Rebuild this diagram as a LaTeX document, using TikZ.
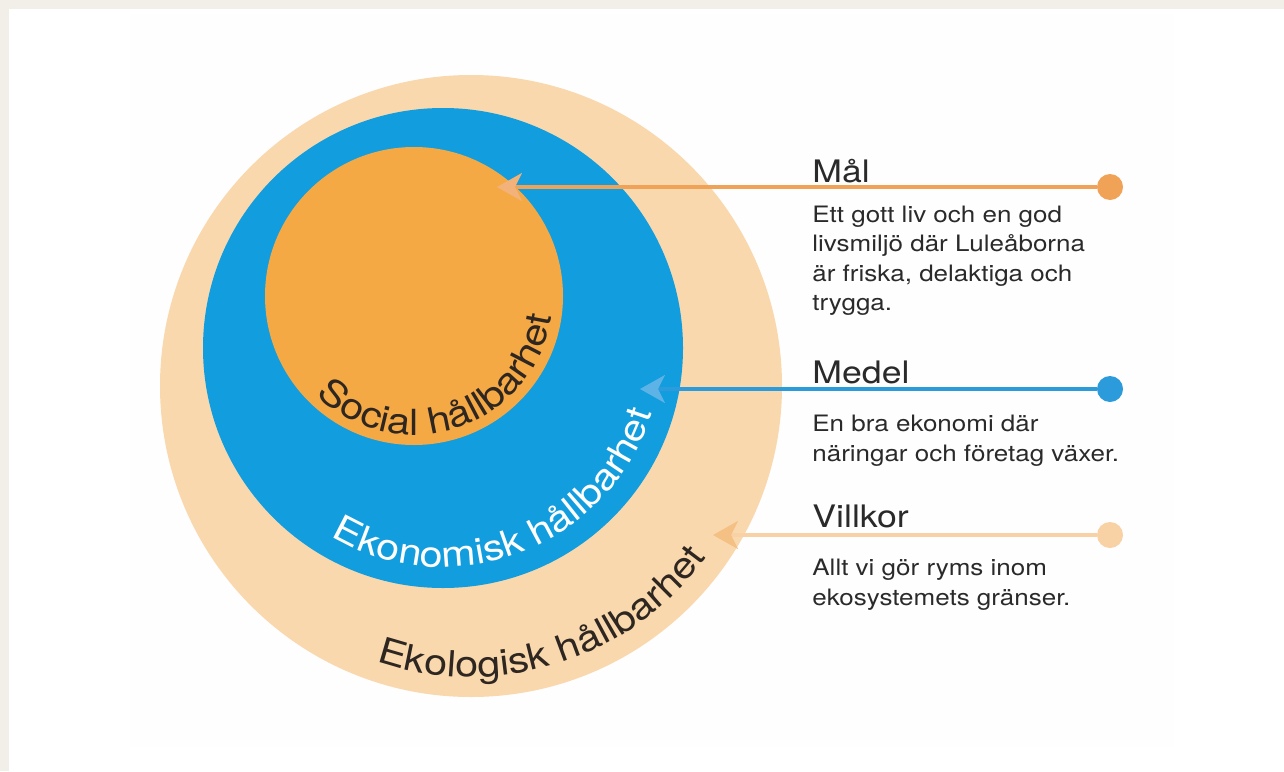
\documentclass[tikz,border=0pt]{standalone}
\usepackage{fontspec}
\setmainfont{TeX Gyre Heros}[FakeStretch=1.15]
\usetikzlibrary{arrows.meta,decorations.text}

\definecolor{bakgrund}{HTML}{F2EEE8}
\definecolor{panel}{HTML}{FEFEFE}
\definecolor{ekologiskfarg}{HTML}{FAD8AE}
\definecolor{ekonomiskfarg}{HTML}{119DDE}
\definecolor{socialfarg}{HTML}{F5A945}
\definecolor{malfarg}{HTML}{F0A257}
\definecolor{malspetsfarg}{HTML}{F3B27A}
\definecolor{medelfarg}{HTML}{2C9BDB}
\definecolor{medelspetsfarg}{HTML}{5DB3E6}
\definecolor{villkorfarg}{HTML}{F8D2A5}
\definecolor{villkorspetsfarg}{HTML}{F4C084}
\definecolor{textgra}{HTML}{2A2A2A}
\definecolor{etikettmork}{HTML}{2E2620}

\newcommand{\etikett}{\fontsize{18}{18}\selectfont}

\tikzset{
    pil/.style={line width=1.6pt},
    prick/.style={circle,fill,inner sep=0pt,minimum size=13pt},
    rubrik/.style={anchor=base west,inner sep=0pt,text=textgra,font=\fontsize{15.5}{18}\selectfont},
    brodtext/.style={anchor=north west,inner sep=0pt,align=left,text=textgra,font=\fontsize{11.3}{14.7}\selectfont}
}

\begin{document}
\begin{tikzpicture}[x=0.5pt,y=0.5pt]
        % Bakgrund
        \fill[bakgrund] (0,0) rectangle (1284,-771);
        \fill[white] (9,-9) rectangle (1284,-771);
        \fill[panel] (130,-14) rectangle (1174,-747);

        % Cirklar
        \begin{scope}[every node/.style={circle,inner sep=0pt}]
            \node[fill=ekologiskfarg, minimum size=311pt] (ekologisk) at (471,-386) {};
            \node[fill=ekonomiskfarg, minimum size=240pt] (ekonomisk) at (443,-348) {};
            \node[fill=socialfarg, minimum size=149pt] (social) at (414,-296) {};
        \end{scope}

        % Etiketter
        \path[decorate, decoration={text along path, text align=center, text color=etikettmork,
            text={|\etikett|Social hållbarhet}}]
            (social.center) ++(198.5:139) arc[start angle=198.5, end angle=378.5, radius=139];
        \path[decorate, decoration={text along path, text align=center, text color=white,
            text={|\etikett|Ekonomisk hållbarhet}}]
            (ekonomisk.center) ++(201:219) arc[start angle=201, end angle=381, radius=219];
        \path[decorate, decoration={text along path, text align=center, text color=etikettmork,
            text={|\etikett|Ekologisk hållbarhet}}]
            (ekologisk.center) ++(197.5:291) arc[start angle=197.5, end angle=377.5, radius=291];

        % Pilar
        \coordinate (malspets) at (497,-187);
        \coordinate (medelspets) at (640,-389);
        \coordinate (villkorspets) at (713,-535);
        \node[prick, fill=malfarg] (malprick) at (1110,-187) {};
        \node[prick, fill=medelfarg] (medelprick) at (1110,-389) {};
        \node[prick, fill=villkorfarg] (villkorprick) at (1110,-535) {};
        \draw[pil, malfarg, -{Stealth[length=12.5pt,width=14pt,inset=3.5pt,color=malspetsfarg]}] (malprick) -- (malspets);
        \draw[pil, medelfarg, -{Stealth[length=12.5pt,width=14pt,inset=3.5pt,color=medelspetsfarg]}] (medelprick) -- (medelspets);
        \draw[pil, villkorfarg, -{Stealth[length=12.5pt,width=14pt,inset=3.5pt,color=villkorspetsfarg]}] (villkorprick) -- (villkorspets);

        % Texter
        \node[rubrik] (malrubrik) at (812,-182) {Mål};
        \node[brodtext] (maltext) at (812,-205.5) {Ett gott liv och en god\\livsmiljö där Luleåborna\\är friska, delaktiga och\\trygga.};
        \node[rubrik] (medelrubrik) at (812,-383) {Medel};
        \node[brodtext] (medeltext) at (812,-415) {En bra ekonomi där\\näringar och företag växer.};
        \node[rubrik] (villkorrubrik) at (812,-527) {Villkor};
        \node[brodtext] (villkortext) at (812,-559) {Allt vi gör ryms inom\\ekosystemets gränser.};
\end{tikzpicture}
\end{document}
